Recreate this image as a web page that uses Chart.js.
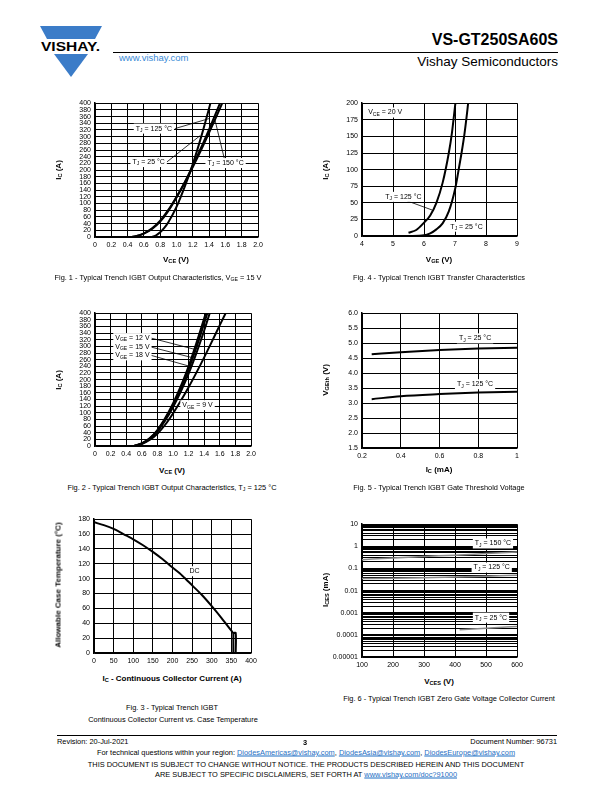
<!DOCTYPE html>
<html>
<head>
<meta charset="utf-8">
<script src="https://cdn.jsdelivr.net/npm/chart.js@4.4.1/dist/chart.umd.min.js"></script>
<style>
body { margin: 0; background: #fff; }
#page { position: relative; width: 612px; height: 792px; overflow: hidden; font-family: "Liberation Sans", Arial, sans-serif; color: #000; }
#page div, #page canvas, #page svg { position: absolute; }
.c { transform: translate(-50%, -50%); white-space: nowrap; }
.r { transform: translate(-50%, -50%) rotate(-90deg); white-space: nowrap; }
.at { font-weight: bold; font-size: 8px; color: #000; }
.cap { font-size: 7.4px; color: #000; }
sub { font-size: 70%; vertical-align: -0.3em; line-height: 0; }
.ft { font-size: 7.4px; white-space: nowrap; color: #000; }
a { color: #1f6fc4; }
</style>
</head>
<body>
<div id="page">
  <svg style="left:38px;top:24px" width="66" height="56" viewBox="0 0 66 56">
    <polygon points="2,2 64,2 57,15 9,15" fill="#3b7cc8"/>
    <text x="3" y="27" font-family="Liberation Sans" font-weight="bold" font-size="13" textLength="59" lengthAdjust="spacingAndGlyphs">VISHAY.</text>
    <polygon points="16,30 50,30 33,53" fill="#3b7cc8"/>
  </svg>
  <div style="left:119px;top:52px;font-size:9.5px;color:#3a8ad6">www.vishay.com</div>
  <div style="right:54px;top:31px;font-size:16px;font-weight:bold">VS-GT250SA60S</div>
  <div style="left:113px;top:52px;width:445px;border-top:1px solid #000"></div>
  <div style="right:54px;top:54px;font-size:13.5px">Vishay Semiconductors</div>

  <canvas id="fig1"></canvas>
  <canvas id="fig4"></canvas>
  <canvas id="fig2"></canvas>
  <canvas id="fig5"></canvas>
  <canvas id="fig3"></canvas>
  <canvas id="fig6"></canvas>

  <div class="c at" style="left:176px;top:259px">V<sub>CE</sub> (V)</div>
  <div class="r at" style="left:58px;top:170px">I<sub>C</sub> (A)</div>
  <div class="c cap" style="left:158px;top:277px">Fig. 1 - Typical Trench IGBT Output Characteristics, V<sub>GE</sub> = 15 V</div>

  <div class="c at" style="left:439px;top:259px">V<sub>GE</sub> (V)</div>
  <div class="r at" style="left:325px;top:170px">I<sub>C</sub> (A)</div>
  <div class="c cap" style="left:439px;top:277px">Fig. 4 - Typical Trench IGBT Transfer Characteristics</div>

  <div class="c at" style="left:172px;top:470px">V<sub>CE</sub> (V)</div>
  <div class="r at" style="left:58px;top:380px">I<sub>C</sub> (A)</div>
  <div class="c cap" style="left:172px;top:487px">Fig. 2 - Typical Trench IGBT Output Characteristics, T<sub>J</sub> = 125 °C</div>

  <div class="c at" style="left:439px;top:469px">I<sub>C</sub> (mA)</div>
  <div class="r at" style="left:325px;top:380px">V<sub>GEth</sub> (V)</div>
  <div class="c cap" style="left:439px;top:487px">Fig. 5 - Typical Trench IGBT Gate Threshold Voltage</div>

  <div class="c at" style="left:172px;top:678px">I<sub>C</sub> - Continuous Collector Current (A)</div>
  <div class="r at" style="left:58px;top:585px">Allowable Case Temperature (°C)</div>
  <div class="c cap" style="left:172px;top:707px">Fig. 3 - Typical Trench IGBT</div>
  <div class="c cap" style="left:173px;top:719px">Continuous Collector Current vs. Case Temperature</div>

  <div class="c at" style="left:439px;top:681px">V<sub>CES</sub> (V)</div>
  <div class="r at" style="left:325px;top:590px">I<sub>CES</sub> (mA)</div>
  <div class="c cap" style="left:449px;top:698px">Fig. 6 - Typical Trench IGBT Zero Gate Voltage Collector Current</div>

  <div style="left:57px;top:735px;width:500px;border-top:1px solid #000"></div>
  <div class="ft" style="left:57px;top:737px">Revision: 20-Jul-2021</div>
  <div class="ft c" style="left:305px;top:742px;font-weight:bold">3</div>
  <div class="ft" style="right:55px;top:737px">Document Number: 96731</div>
  <div class="ft c" style="left:306px;top:752px">For technical questions within your region: <a href="#">DiodesAmericas@vishay.com</a>, <a href="#">DiodesAsia@vishay.com</a>, <a href="#">DiodesEurope@vishay.com</a></div>
  <div class="ft c" style="left:306px;top:764px">THIS DOCUMENT IS SUBJECT TO CHANGE WITHOUT NOTICE. THE PRODUCTS DESCRIBED HEREIN AND THIS DOCUMENT</div>
  <div class="ft c" style="left:306px;top:774px">ARE SUBJECT TO SPECIFIC DISCLAIMERS, SET FORTH AT <a href="#">www.vishay.com/doc?91000</a></div>
</div>

<script>
// Fig. 1 - output characteristics, VGE = 15 V (VCE in V, IC in A)
const fig1Tj25V = [0.70, 0.75, 0.80, 0.85, 0.90, 1.00, 1.10, 1.20, 1.30, 1.40, 1.45];
const fig1Tj25I = [0, 5, 14, 27, 44, 90, 150, 218, 297, 385, 432];
const fig1TjHotV = [0.45, 0.50, 0.60, 0.70, 0.80, 0.90, 1.00, 1.10, 1.20, 1.30, 1.40, 1.50, 1.60];
const fig1Tj125I = [0, 2, 10, 24, 46, 78, 118, 163, 213, 266, 322, 380, 440];
const fig1Tj150I = [0, 2, 11, 26, 49, 81, 120, 162, 209, 259, 312, 366, 422];
const fig1Lead125 = [[0.98, 324], [1.40, 354]];
const fig1Lead25 = [[0.88, 224], [1.29, 303]];
const fig1Lead150 = [[1.59, 231], [1.47, 352]];

// Fig. 4 - transfer characteristics, VCE = 20 V (VGE in V, IC in A)
const fig4Tj125V = [5.5, 5.75, 6.0, 6.2, 6.4, 6.6, 6.8, 6.9, 7.0, 7.05];
const fig4Tj125I = [5, 9, 20, 31, 50, 80, 125, 155, 195, 215];
const fig4Tj25V = [5.5, 6.0, 6.2, 6.4, 6.6, 6.8, 7.0, 7.1, 7.2, 7.3, 7.4, 7.45];
const fig4Tj25I = [0, 1, 4, 10, 19, 37, 70, 95, 122, 152, 190, 212];
const fig4Lead125 = [[5.45, 53], [6.27, 39]];

// Fig. 2 - output characteristics, TJ = 125 degC (VCE in V, IC in A)
const fig2V = [0.5, 0.6, 0.7, 0.8, 0.9, 1.0, 1.1, 1.2, 1.3, 1.4, 1.5, 1.6, 1.7];
const fig2Vge18I = [0, 8, 23, 48, 84, 128, 180, 240, 310, 385, 460];
const fig2Vge15I = [0, 8, 22, 46, 81, 123, 173, 231, 297, 370, 445];
const fig2Vge12I = [0, 7, 21, 44, 77, 117, 164, 218, 280, 348, 422];
const fig2Vge9I = [0, 6, 18, 37, 64, 98, 136, 177, 221, 267, 315, 364, 412];
const fig2Lead12 = [[0.72, 325], [1.28, 291]];
const fig2Lead15 = [[0.72, 298], [1.25, 266]];
const fig2Lead18 = [[0.72, 273], [1.20, 241]];

// Fig. 5 - gate threshold voltage (IC in mA, VGEth in V)
const fig5Ic = [0.25, 0.4, 0.6, 0.8, 1.0];
const fig5Tj25 = [4.63, 4.70, 4.77, 4.82, 4.85];
const fig5Tj125 = [3.13, 3.23, 3.30, 3.35, 3.38];

// Fig. 3 - max case temperature vs continuous current (A, degC)
const fig3Ic = [0, 25, 50, 75, 100, 125, 150, 175, 200, 225, 250, 275, 300, 325, 350, 355, 361, 361];
const fig3Tc = [176, 172, 167, 160, 153, 145, 136, 126, 115, 104, 91, 78, 63, 47, 30, 27, 27, 0];
const fig3DropIc = [355, 355];
const fig3DropTc = [27, 0];

// Fig. 6 - zero gate voltage collector current (VCES in V, ICES in mA)
const fig6V = [100, 200, 300, 400, 500, 600];
const fig6Tj150 = [0.25, 0.30, 0.35, 0.40, 0.47, 0.55];
const fig6Tj125 = [0.035, 0.036, 0.038, 0.041, 0.045, 0.05];
const fig6Tj25V = [415, 500, 600];
const fig6Tj25I = [0.00017, 0.0002, 0.00024];
const fig6YTicks = ['0.00001', '0.0001', '0.001', '0.01', '0.1', '1', '10'];

const FONT = 'Liberation Sans';

// labels with white backing, placed at data coordinates
const notesPlugin = {
  id: 'notes',
  afterDatasetsDraw(chart, args, opts) {
    const ctx = chart.ctx;
    const xs = chart.scales.x, ys = chart.scales.y;
    (opts.items || []).forEach(n => {
      ctx.save();
      let w = 0;
      n.parts.forEach(p => {
        ctx.font = (p[1] ? 5 : 7) + 'px "' + FONT + '"';
        w += ctx.measureText(p[0]).width;
      });
      const px = xs.getPixelForValue(n.x);
      const py = ys.getPixelForValue(n.y);
      ctx.fillStyle = '#fff';
      ctx.fillRect(px - 2, py - 5, w + 4, 10);
      ctx.fillStyle = '#000';
      ctx.textBaseline = 'middle';
      let cx = px;
      n.parts.forEach(p => {
        ctx.font = (p[1] ? 5 : 7) + 'px "' + FONT + '"';
        ctx.fillText(p[0], cx, p[1] ? py + 2 : py);
        cx += ctx.measureText(p[0]).width;
      });
      ctx.restore();
    });
  }
};

function note(x, y, main, sub, rest) {
  const parts = [[main, 0]];
  if (sub) parts.push([sub, 1]);
  if (rest) parts.push([rest, 0]);
  return { x: x, y: y, parts: parts };
}

function curve(xs, ys, color, width) {
  return {
    data: xs.map((x, i) => ({ x: x, y: ys[i] })),
    borderColor: color || '#000',
    borderWidth: width || 2,
    pointRadius: 0,
    cubicInterpolationMode: 'monotone',
    fill: false
  };
}

function leader(pts) {
  return {
    data: pts.map(p => ({ x: p[0], y: p[1] })),
    borderColor: '#000',
    borderWidth: 0.8,
    pointRadius: 0,
    tension: 0,
    fill: false
  };
}

function axis(min, max, step, cb, type) {
  return {
    type: type || 'linear',
    min: min,
    max: max,
    grid: { color: '#000', lineWidth: 1, drawTicks: false },
    border: { color: '#000', width: 1.5 },
    ticks: {
      stepSize: step,
      color: '#000',
      font: { family: FONT, size: 7 },
      padding: 4,
      autoSkip: false,
      maxRotation: 0,
      callback: cb
    }
  };
}

// box = plot area [left, top, right, bottom] on the page
function makeChart(id, box, xAx, yAx, datasets, notes) {
  const L = 42, R = 16, T = 8, B = 18;
  const cv = document.getElementById(id);
  cv.width = box[2] - box[0] + L + R;
  cv.height = box[3] - box[1] + T + B;
  cv.style.left = (box[0] - L) + 'px';
  cv.style.top = (box[1] - T) + 'px';
  xAx.afterFit = s => { s.height = B; };
  yAx.afterFit = s => { s.width = L; };
  new Chart(cv, {
    type: 'line',
    data: { datasets: datasets },
    options: {
      responsive: false,
      animation: false,
      events: [],
      layout: { padding: { top: T, right: R, left: 0, bottom: 0 } },
      plugins: {
        legend: { display: false },
        tooltip: { enabled: false },
        notes: { items: notes }
      },
      scales: { x: xAx, y: yAx }
    },
    plugins: [notesPlugin]
  });
}

const fmtV = v => v === 0 ? '0' : v.toFixed(1);

makeChart('fig1', [95, 103, 258, 237],
  axis(0, 2, 0.2, fmtV),
  axis(0, 400, 20),
  [
    leader(fig1Lead125), leader(fig1Lead25), leader(fig1Lead150),
    curve(fig1Tj25V, fig1Tj25I),
    curve(fig1TjHotV, fig1Tj125I),
    curve(fig1TjHotV, fig1Tj150I)
  ],
  [
    note(0.50, 324, 'T', 'J', ' = 125 °C'),
    note(0.46, 224, 'T', 'J', ' = 25 °C'),
    note(1.38, 221, 'T', 'J', ' = 150 °C')
  ]);

makeChart('fig4', [362, 103, 517, 236],
  axis(4, 9, 1),
  axis(0, 200, 25),
  [
    leader(fig4Lead125),
    curve(fig4Tj125V, fig4Tj125I),
    curve(fig4Tj25V, fig4Tj25I)
  ],
  [
    note(4.2, 186, 'V', 'CE', ' = 20 V'),
    note(4.75, 59, 'T', 'J', ' = 125 °C'),
    note(6.85, 14, 'T', 'J', ' = 25 °C')
  ]);

makeChart('fig2', [95, 313, 251, 446],
  axis(0, 2, 0.2, fmtV),
  axis(0, 400, 20),
  [
    leader(fig2Lead12), leader(fig2Lead15), leader(fig2Lead18),
    curve(fig2V.slice(0, fig2Vge18I.length), fig2Vge18I),
    curve(fig2V.slice(0, fig2Vge15I.length), fig2Vge15I),
    curve(fig2V.slice(0, fig2Vge12I.length), fig2Vge12I),
    curve(fig2V, fig2Vge9I)
  ],
  [
    note(0.26, 325, 'V', 'GE', ' = 12 V'),
    note(0.26, 298, 'V', 'GE', ' = 15 V'),
    note(0.26, 273, 'V', 'GE', ' = 18 V'),
    note(1.12, 123, 'V', 'GE', ' = 9 V')
  ]);

makeChart('fig5', [362, 313, 517, 448],
  axis(0.2, 1, 0.2),
  axis(1.5, 6, 0.5, v => v.toFixed(1)),
  [
    curve(fig5Ic, fig5Tj25),
    curve(fig5Ic, fig5Tj125)
  ],
  [
    note(0.70, 5.16, 'T', 'J', ' = 25 °C'),
    note(0.69, 3.63, 'T', 'J', ' = 125 °C')
  ]);

makeChart('fig3', [94, 519, 251, 653],
  axis(0, 400, 50),
  axis(0, 180, 20),
  [
    Object.assign(curve(fig3Ic, fig3Tc), { cubicInterpolationMode: 'default', tension: 0.3 }),
    curve(fig3DropIc, fig3DropTc)
  ],
  [
    note(243, 110, 'DC')
  ]);

const fig6Y = axis(0.00001, 10, null, v => {
  const e = Math.log10(v);
  return Math.abs(e - Math.round(e)) < 1e-6 ? fig6YTicks[Math.round(e) + 5] : '';
}, 'logarithmic');
fig6Y.afterBuildTicks = s => {
  const t = [];
  for (let e = -5; e <= 0; e++) {
    for (let k = 1; k <= 9; k++) t.push({ value: k * Math.pow(10, e) });
  }
  t.push({ value: 10 });
  s.ticks = t;
};

makeChart('fig6', [362, 524, 517, 657],
  axis(100, 600, 100),
  fig6Y,
  [
    curve(fig6V, fig6Tj150, '#8a8a8a', 1.5),
    curve(fig6V, fig6Tj125, '#8a8a8a', 1.5),
    curve(fig6Tj25V, fig6Tj25I, '#8a8a8a', 1.5)
  ],
  [
    note(464, 1.35, 'T', 'J', ' = 150 °C'),
    note(460, 0.11, 'T', 'J', ' = 125 °C'),
    note(464, 0.0006, 'T', 'J', ' = 25 °C')
  ]);
</script>
</body>
</html>
